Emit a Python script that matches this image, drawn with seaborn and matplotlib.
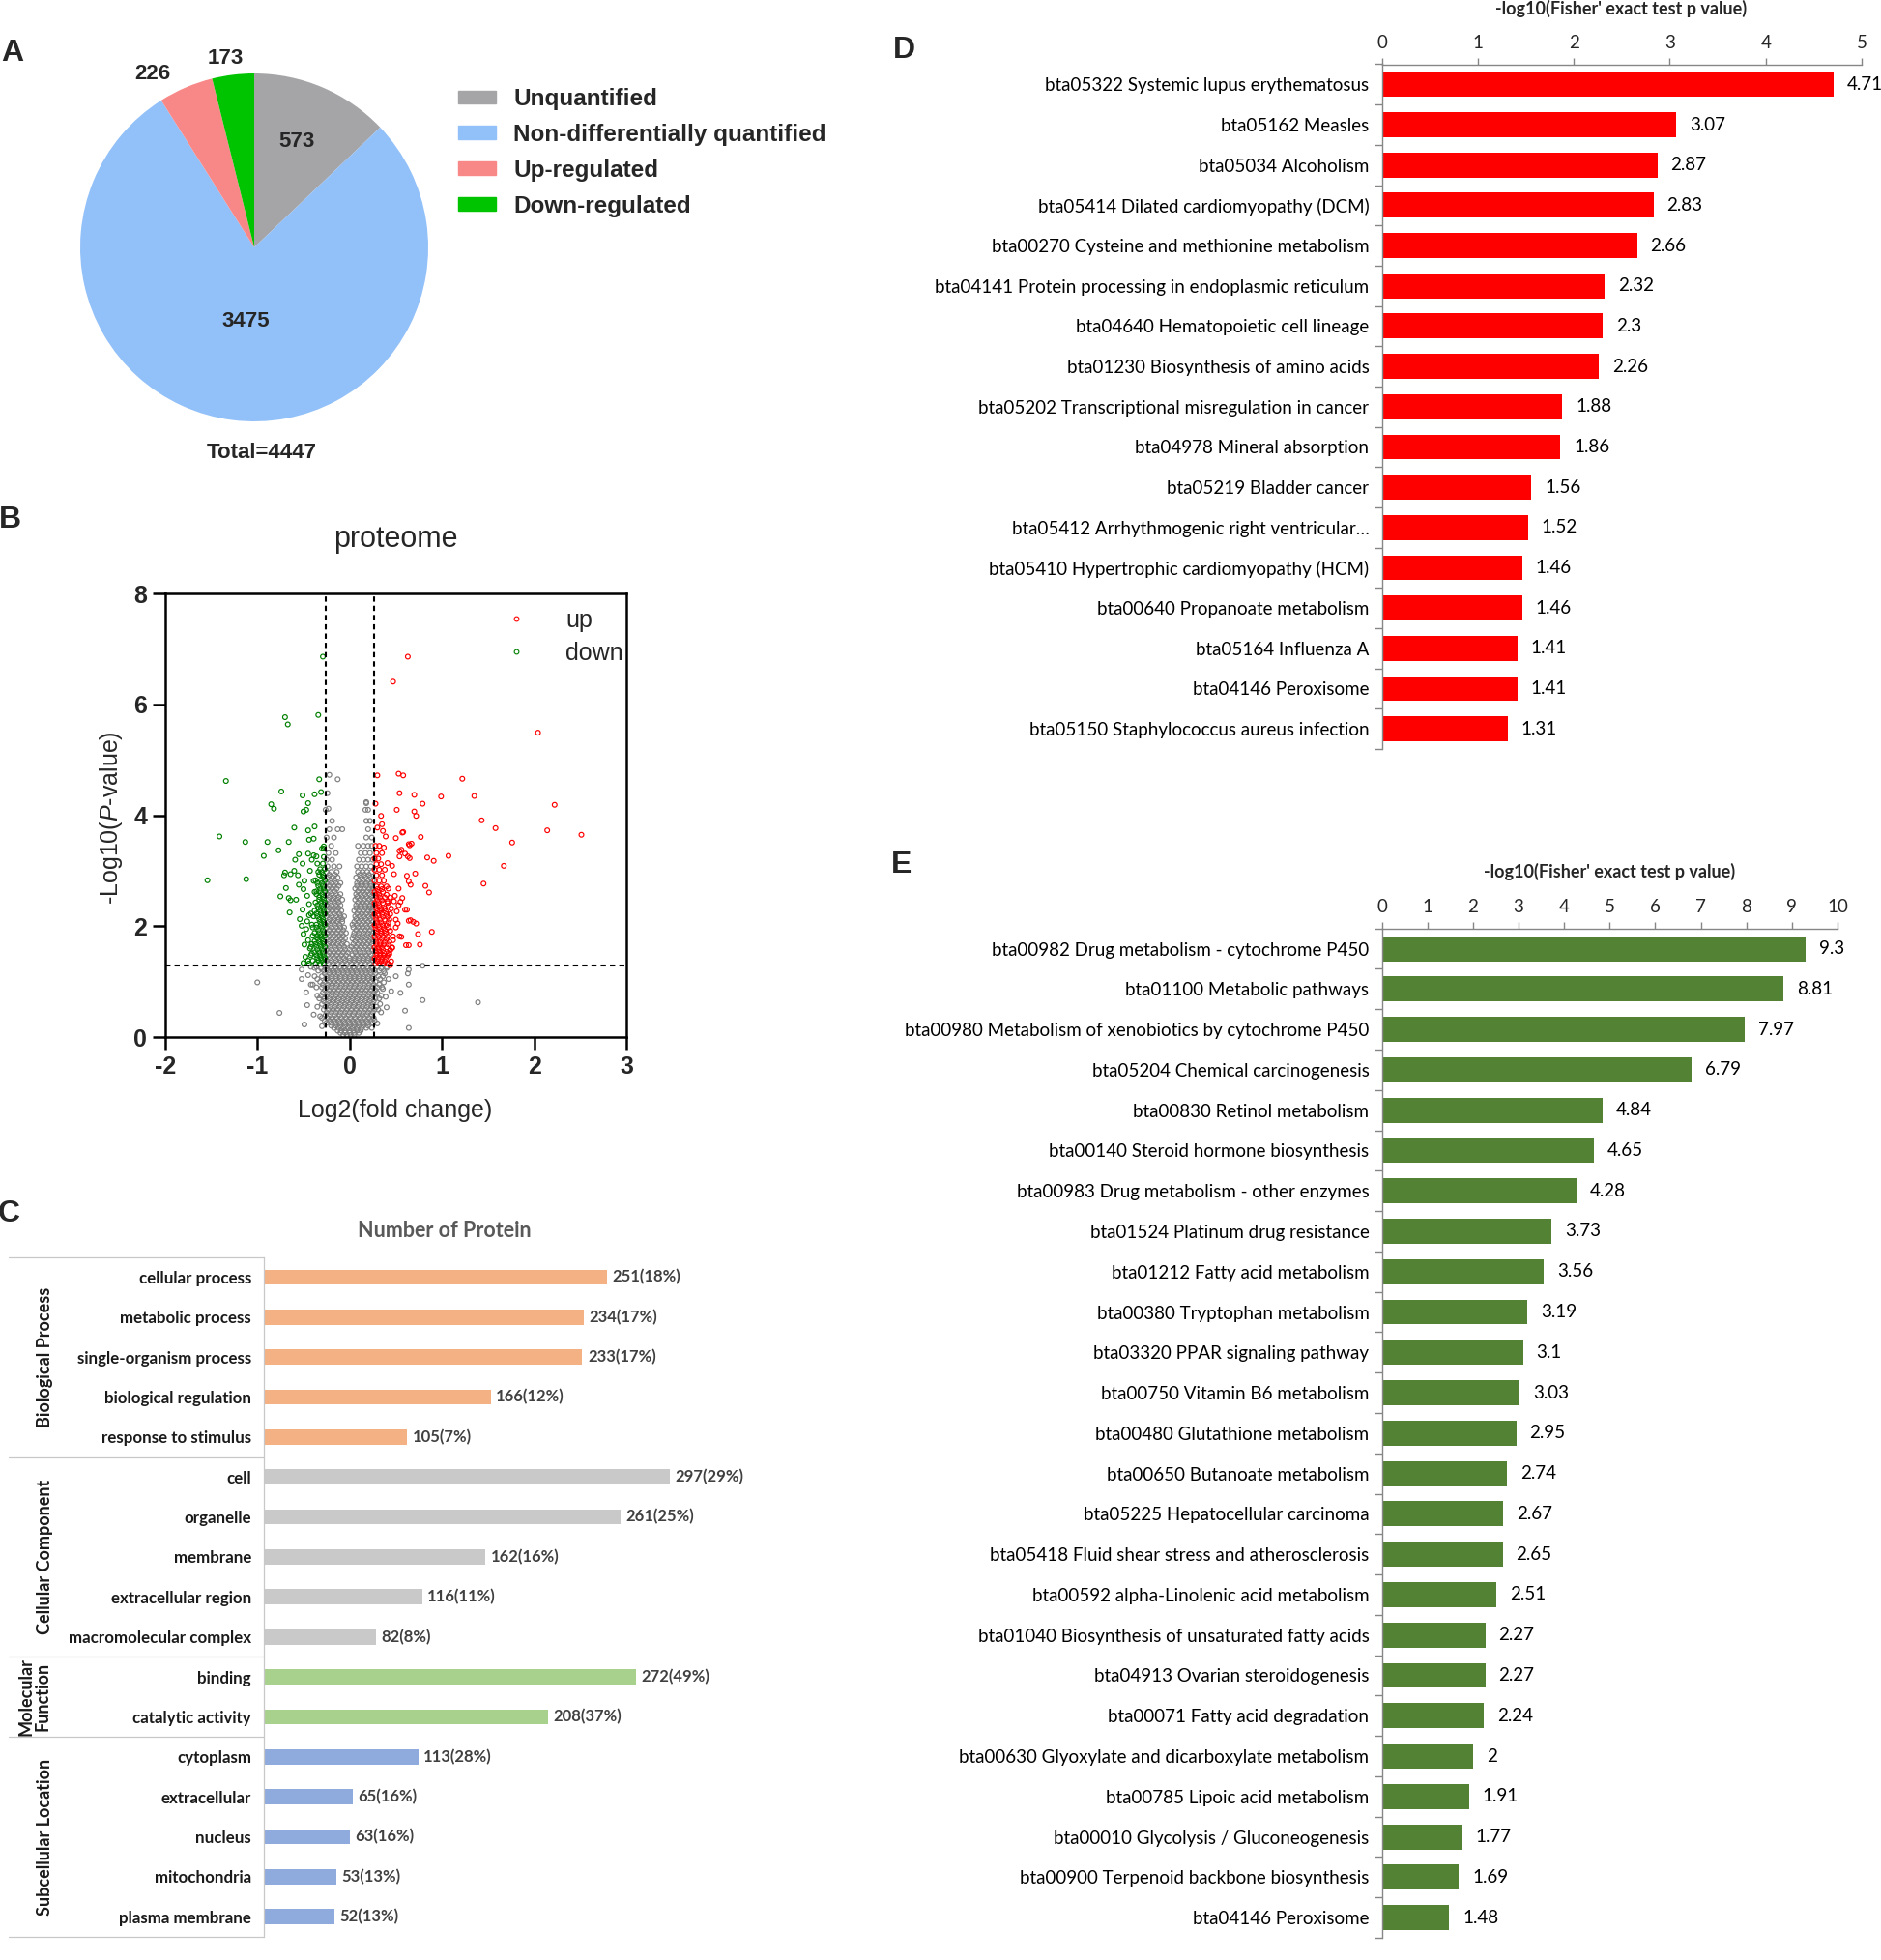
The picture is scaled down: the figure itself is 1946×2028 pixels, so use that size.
import matplotlib
matplotlib.use("Agg")
import matplotlib.pyplot as plt
import seaborn as sns
import pandas as pd
from matplotlib.lines import Line2D
from matplotlib.patches import Patch
from matplotlib.transforms import blended_transform_factory

# ---------------- data ----------------
# A: protein quantification pie
pie_labels = ["Unquantified", "Non-differentially quantified", "Up-regulated", "Down-regulated"]
pie_counts = [573, 3475, 226, 173]
pie_colors = ["#a5a5a8", "#92c0f8", "#f88888", "#00c400"]

# B: volcano plot (log2 fold change, -log10 p)
up_points = [
    (0.63, 6.86), (0.47, 6.41), (2.04, 5.49), (0.30, 4.72), (0.53, 4.75), (0.58, 4.72),
    (1.22, 4.66), (1.35, 4.35), (0.99, 4.34), (0.70, 4.37), (0.54, 4.40), (0.28, 4.21),
    (0.79, 4.21), (2.22, 4.19), (0.51, 4.10), (0.70, 4.07), (0.72, 3.99), (0.34, 3.99),
    (1.43, 3.91), (1.58, 3.77), (2.14, 3.73), (2.51, 3.65), (0.35, 3.84), (0.30, 3.78),
    (0.57, 3.69), (0.77, 3.61), (0.50, 3.59), (1.76, 3.51), (0.64, 3.48), (0.67, 3.49),
    (0.54, 3.36), (0.54, 3.26), (1.07, 3.27), (0.84, 3.24), (0.91, 3.18), (0.63, 3.26),
    (1.67, 3.09), (0.71, 2.95), (1.45, 2.77), (0.82, 2.73), (0.86, 2.61), (0.57, 2.51),
    (0.60, 2.30), (0.64, 2.10), (0.69, 2.08), (0.72, 2.05), (0.89, 1.90), (0.74, 1.86),
    (0.54, 1.82), (0.76, 1.67), (0.61, 1.66), (0.43, 1.50), (0.42, 1.32), (0.36, 3.72),
    (0.39, 3.62), (0.58, 3.70), (0.65, 3.46), (0.37, 3.42), (0.56, 3.38), (0.60, 3.31),
    (0.65, 3.23), (0.41, 3.14), (0.46, 3.09), (0.48, 2.94), (0.62, 2.91), (0.64, 2.81),
    (0.66, 2.75), (0.42, 2.68), (0.53, 2.68), (0.41, 2.45), (0.48, 2.45), (0.55, 2.44),
    (0.62, 2.30), (0.44, 2.22), (0.51, 2.27), (0.66, 2.11), (0.56, 1.81), (0.64, 1.66),
    (0.46, 1.61), (0.42, 1.98), (0.50, 1.98), (0.44, 1.30), (0.49, 2.55), (0.52, 2.05),
    (0.47, 1.75), (0.53, 2.38),
]
up_rows = [
    (1.33, [0.28, 0.32, 0.36, 0.41]), (1.37, [0.30, 0.34, 0.38, 0.45]),
    (1.42, [0.27, 0.31, 0.35, 0.39]), (1.47, [0.29, 0.33, 0.37, 0.41]),
    (1.52, [0.29, 0.33, 0.37, 0.42]), (1.57, [0.28, 0.32, 0.36, 0.44]),
    (1.62, [0.27, 0.31, 0.35, 0.40, 0.46]), (1.67, [0.29, 0.33, 0.37, 0.42]),
    (1.72, [0.29, 0.33, 0.38, 0.43]), (1.77, [0.28, 0.35, 0.40]),
    (1.82, [0.27, 0.31, 0.36, 0.41, 0.47]), (1.87, [0.30, 0.34, 0.39]),
    (1.92, [0.29, 0.34, 0.38, 0.44]), (1.97, [0.28, 0.32, 0.37]),
    (2.02, [0.27, 0.31, 0.36, 0.40]), (2.07, [0.30, 0.34, 0.42]),
    (2.12, [0.29, 0.33, 0.38, 0.43, 0.50]), (2.17, [0.28, 0.36, 0.41]),
    (2.22, [0.27, 0.31, 0.35, 0.40]), (2.27, [0.30, 0.33, 0.39]),
    (2.32, [0.29, 0.34, 0.38, 0.45]), (2.37, [0.28, 0.32, 0.42]),
    (2.42, [0.27, 0.31, 0.36, 0.41]), (2.47, [0.30, 0.35]),
    (2.52, [0.29, 0.33, 0.38, 0.44]), (2.57, [0.28, 0.32, 0.40]),
    (2.62, [0.27, 0.31, 0.36]), (2.67, [0.30, 0.35]),
    (2.72, [0.29, 0.34, 0.40]), (2.82, [0.27, 0.32, 0.37]), (2.92, [0.29, 0.35]),
    (3.02, [0.27, 0.32, 0.38]), (3.12, [0.29, 0.34]), (3.22, [0.27, 0.31]),
    (3.32, [0.29, 0.35]), (3.45, [0.28, 0.32]),
]
down_points = [
    (-0.29, 6.86), (-0.34, 5.81), (-0.70, 5.77), (-0.67, 5.64), (-1.34, 4.62), (-0.33, 4.65),
    (-0.74, 4.43), (-0.51, 4.36), (-0.38, 4.38), (-0.31, 4.42), (-0.85, 4.20), (-0.82, 4.12),
    (-0.45, 4.22), (-0.50, 4.07), (-0.47, 4.10), (-0.60, 3.78), (-0.38, 3.80), (-0.45, 3.73),
    (-1.41, 3.62), (-1.13, 3.52), (-0.89, 3.52), (-0.66, 3.52), (-0.77, 3.37), (-0.93, 3.27),
    (-0.44, 3.56), (-0.39, 3.58), (-0.28, 3.44), (-0.55, 3.30), (-0.45, 3.31), (-0.39, 3.28),
    (-0.59, 3.20), (-0.51, 3.13), (-0.41, 3.20), (-1.54, 2.83), (-1.12, 2.85), (-0.70, 2.97),
    (-0.71, 2.92), (-0.64, 2.94), (-0.56, 2.92), (-0.49, 2.82), (-0.39, 2.82), (-0.69, 2.69),
    (-0.75, 2.54), (-0.66, 2.51), (-0.64, 2.47), (-0.50, 2.67), (-0.38, 2.62), (-0.65, 2.25),
    (-0.51, 2.30), (-0.54, 2.13), (-0.46, 2.09), (-0.52, 2.01), (-0.50, 1.86), (-0.49, 1.67),
    (-0.41, 1.51), (-0.50, 1.34), (-0.45, 1.38), (-0.36, 3.26), (-0.43, 3.00), (-0.46, 2.55),
    (-0.44, 2.40), (-0.47, 1.95), (-0.45, 1.75), (-0.43, 1.60), (-0.48, 1.45), (-0.44, 2.20),
    (-0.58, 2.48), (-0.55, 2.75), (-0.60, 3.00),
]
down_rows = [
    (1.33, [-0.28, -0.32, -0.37, -0.44]), (1.38, [-0.30, -0.34, -0.40]),
    (1.43, [-0.27, -0.31, -0.35]), (1.48, [-0.28, -0.32, -0.36, -0.42]),
    (1.53, [-0.29, -0.33, -0.38]), (1.58, [-0.30, -0.35]),
    (1.63, [-0.27, -0.31, -0.36, -0.42]), (1.68, [-0.28, -0.32, -0.37, -0.41]),
    (1.73, [-0.29, -0.33, -0.38]), (1.78, [-0.30, -0.35]),
    (1.83, [-0.27, -0.31, -0.35, -0.40]), (1.88, [-0.28, -0.33, -0.38]),
    (1.93, [-0.29, -0.34]), (1.98, [-0.30, -0.36, -0.40]),
    (2.03, [-0.27, -0.31, -0.36, -0.41]), (2.08, [-0.28, -0.32]),
    (2.13, [-0.29, -0.33]), (2.18, [-0.30, -0.35, -0.39]),
    (2.23, [-0.27, -0.31, -0.36, -0.42]), (2.28, [-0.28, -0.32, -0.38]),
    (2.33, [-0.29, -0.34]), (2.38, [-0.30, -0.35]),
    (2.43, [-0.27, -0.31, -0.37]), (2.48, [-0.28, -0.33]),
    (2.53, [-0.29, -0.33]), (2.58, [-0.30, -0.36]),
    (2.63, [-0.27, -0.32, -0.36]), (2.68, [-0.28, -0.32]),
    (2.73, [-0.29, -0.34]), (2.78, [-0.30, -0.35]),
    (2.83, [-0.27, -0.31, -0.37]), (2.88, [-0.28]), (2.93, [-0.29, -0.33]), (2.98, [-0.30, -0.34]),
    (3.03, [-0.27, -0.32]), (3.13, [-0.29, -0.35]), (3.25, [-0.28]), (3.40, [-0.28, -0.30]),
]
other_points = [
    (-1.00, 0.99), (-0.76, 0.44), (-0.49, 0.23), (1.39, 0.63), (0.64, 0.95), (0.60, 0.48),
    (0.64, 0.17), (0.79, 0.67), (0.79, 1.29), (0.64, 1.22), (0.63, 1.15), (0.40, 0.54),
    (0.45, 0.83), (-0.46, 0.58), (-0.39, 0.41), (-0.52, 1.22), (-0.52, 1.05), (-0.47, 0.81),
    (-0.32, 0.38), (0.37, 1.19), (0.37, 0.99), (0.36, 0.87), (0.39, 0.73), (-0.45, 1.12),
    (-0.40, 0.95), (-0.35, 0.75), (0.42, 1.05), (0.33, 0.60), (-0.30, 0.20), (0.30, 0.25),
    (-0.22, 4.73), (-0.13, 4.65), (-0.23, 4.12), (0.18, 4.24), (-0.24, 4.40), (0.40, 1.25),
    (-0.38, 1.25), (0.50, 1.10), (0.55, 0.80),
]
other_rows = [
    (0.04, [-0.07, -0.03, 0.01, 0.05]),
    (0.08, [-0.1, -0.05, 0.0, 0.05, 0.1]),
    (0.12, [-0.13, -0.09, -0.05, 0.0, 0.04, 0.08, 0.12]),
    (0.17, [-0.17, -0.12, -0.07, -0.02, 0.03, 0.08, 0.13, 0.18, 0.24]),
    (0.21, [-0.2, -0.15, -0.1, -0.05, 0.0, 0.05, 0.1, 0.15, 0.2]),
    (0.26, [-0.25, -0.2, -0.15, -0.1, -0.05, 0.0, 0.05, 0.1, 0.15, 0.2, 0.25]),
    (0.30, [-0.27, -0.22, -0.17, -0.12, -0.07, -0.02, 0.03, 0.08, 0.13, 0.18, 0.23, 0.27]),
    (0.35, [-0.3, -0.24, -0.19, -0.14, -0.09, -0.04, 0.01, 0.06, 0.11, 0.16, 0.21, 0.26]),
    (0.40, [-0.26, -0.21, -0.16, -0.11, -0.06, -0.01, 0.04, 0.09, 0.14, 0.19, 0.24]),
    (0.45, [-0.25, -0.2, -0.15, -0.1, -0.05, 0.0, 0.05, 0.1, 0.15, 0.2, 0.25, 0.34]),
    (0.50, [-0.28, -0.23, -0.18, -0.13, -0.08, -0.03, 0.02, 0.07, 0.12, 0.17, 0.22, 0.27, 0.31]),
    (0.55, [-0.35, -0.26, -0.21, -0.16, -0.11, -0.06, -0.01, 0.04, 0.09, 0.14, 0.19, 0.24, 0.29]),
    (0.60, [-0.3, -0.25, -0.2, -0.15, -0.1, -0.05, 0.0, 0.05, 0.1, 0.15, 0.2, 0.25]),
    (0.65, [-0.28, -0.23, -0.18, -0.13, -0.08, -0.03, 0.02, 0.07, 0.12, 0.17, 0.22, 0.26]),
    (0.70, [-0.33, -0.27, -0.22, -0.17, -0.12, -0.07, -0.02, 0.03, 0.08, 0.13, 0.18, 0.23, 0.28, 0.32]),
    (0.75, [-0.31, -0.25, -0.2, -0.15, -0.1, -0.05, 0.0, 0.05, 0.1, 0.15, 0.2, 0.25, 0.34]),
    (0.80, [-0.29, -0.24, -0.19, -0.14, -0.09, -0.04, 0.01, 0.06, 0.11, 0.16, 0.21, 0.26, 0.3]),
    (0.85, [-0.27, -0.22, -0.17, -0.12, -0.07, -0.02, 0.03, 0.08, 0.13, 0.18, 0.23, 0.28]),
    (0.90, [-0.36, -0.3, -0.25, -0.2, -0.15, -0.1, -0.05, 0.0, 0.05, 0.1, 0.15, 0.2, 0.25, 0.3, 0.35]),
    (0.95, [-0.42, -0.29, -0.24, -0.19, -0.14, -0.09, -0.04, 0.01, 0.06, 0.11, 0.16, 0.21, 0.26, 0.32]),
    (1.00, [-0.32, -0.27, -0.22, -0.17, -0.12, -0.07, -0.02, 0.03, 0.08, 0.13, 0.18, 0.23, 0.28]),
    (1.05, [-0.35, -0.25, -0.2, -0.15, -0.1, -0.05, 0.0, 0.05, 0.1, 0.15, 0.2, 0.25, 0.33]),
    (1.10, [-0.38, -0.3, -0.25, -0.2, -0.15, -0.1, -0.05, 0.0, 0.05, 0.1, 0.15, 0.2, 0.25, 0.31, 0.36]),
    (1.15, [-0.27, -0.22, -0.17, -0.12, -0.07, -0.02, 0.03, 0.08, 0.13, 0.18, 0.23, 0.28, 0.38]),
    (1.20, [-0.34, -0.28, -0.23, -0.18, -0.13, -0.08, -0.03, 0.02, 0.07, 0.12, 0.17, 0.22, 0.27, 0.32]),
    (1.24, [-0.31, -0.25, -0.2, -0.15, -0.1, -0.05, 0.0, 0.05, 0.1, 0.15, 0.2, 0.25, 0.34]),
    (1.27, [-0.42, -0.36, -0.26, -0.21, -0.16, -0.11, -0.06, -0.01, 0.04, 0.09, 0.14, 0.19, 0.24, 0.3, 0.4]),
    (1.33, [-0.23, -0.18, -0.13, -0.08, -0.03, 0.02, 0.07, 0.12, 0.17, 0.22]),
    (1.38, [-0.25, -0.2, -0.15, -0.1, -0.05, 0.0, 0.05, 0.1, 0.15, 0.2, 0.25]),
    (1.43, [-0.26, -0.21, -0.16, -0.11, -0.06, 0.0, 0.05, 0.1, 0.15, 0.2, 0.25]),
    (1.48, [-0.24, -0.19, -0.14, -0.09, -0.04, 0.03, 0.08, 0.13, 0.18, 0.23]),
    (1.53, [-0.22, -0.17, -0.12, -0.07, -0.02, 0.06, 0.11, 0.16, 0.21]),
    (1.58, [-0.25, -0.2, -0.15, -0.1, -0.05, 0.0, 0.05, 0.1, 0.15, 0.2, 0.25]),
    (1.63, [-0.26, -0.21, -0.16, -0.11, -0.06, 0.02, 0.07, 0.12, 0.17, 0.22]),
    (1.68, [-0.23, -0.18, -0.13, -0.08, -0.03, 0.04, 0.09, 0.14, 0.19, 0.24]),
    (1.73, [-0.22, -0.17, -0.12, -0.07, 0.06, 0.11, 0.16, 0.21, 0.25]),
    (1.78, [-0.25, -0.2, -0.15, -0.1, -0.05, 0.03, 0.08, 0.13, 0.18, 0.23]),
    (1.83, [-0.26, -0.21, -0.16, -0.11, -0.07, 0.04, 0.09, 0.14, 0.19, 0.24]),
    (1.88, [-0.24, -0.19, -0.14, -0.09, -0.04, 0.05, 0.1, 0.15, 0.2, 0.25]),
    (1.93, [-0.22, -0.17, -0.12, -0.07, 0.07, 0.12, 0.17, 0.22]),
    (1.98, [-0.25, -0.2, -0.15, -0.1, -0.06, 0.04, 0.09, 0.14, 0.19, 0.24]),
    (2.03, [-0.26, -0.21, -0.16, -0.11, 0.03, 0.08, 0.13, 0.18, 0.23]),
    (2.08, [-0.23, -0.18, -0.13, -0.08, 0.05, 0.1, 0.15, 0.2, 0.25]),
    (2.13, [-0.22, -0.17, -0.12, -0.08, 0.07, 0.12, 0.17, 0.22]),
    (2.18, [-0.25, -0.2, -0.15, -0.1, -0.06, 0.06, 0.11, 0.16, 0.21, 0.25]),
    (2.23, [-0.26, -0.21, -0.16, -0.11, 0.08, 0.13, 0.18, 0.23]),
    (2.28, [-0.24, -0.19, -0.14, -0.09, 0.05, 0.1, 0.15, 0.2, 0.24]),
    (2.33, [-0.22, -0.17, -0.12, 0.07, 0.12, 0.17, 0.22, 0.25]),
    (2.38, [-0.25, -0.2, -0.15, -0.1, 0.07, 0.12, 0.17, 0.22]),
    (2.43, [-0.26, -0.21, -0.16, -0.12, 0.09, 0.14, 0.19, 0.24]),
    (2.48, [-0.23, -0.18, -0.13, -0.08, 0.06, 0.11, 0.16, 0.21, 0.25]),
    (2.53, [-0.22, -0.17, -0.12, 0.08, 0.13, 0.18, 0.23]),
    (2.58, [-0.25, -0.2, -0.15, -0.1, 0.07, 0.12, 0.17, 0.22]),
    (2.63, [-0.26, -0.21, -0.16, 0.09, 0.14, 0.19, 0.24]),
    (2.68, [-0.24, -0.19, -0.14, 0.06, 0.11, 0.16, 0.21, 0.25]),
    (2.73, [-0.22, -0.17, -0.12, 0.08, 0.13, 0.18, 0.23]),
    (2.78, [-0.25, -0.2, -0.15, -0.1, 0.08, 0.13, 0.18, 0.23]),
    (2.83, [-0.26, -0.21, -0.16, 0.1, 0.15, 0.2, 0.25]),
    (2.88, [-0.23, -0.18, -0.13, 0.07, 0.12, 0.17, 0.22]),
    (2.93, [-0.22, -0.16, 0.11, 0.16, 0.21]),
    (2.98, [-0.25, -0.2, -0.14, 0.09, 0.14, 0.19, 0.24]),
    (3.08, [-0.24, -0.17, -0.11, 0.08, 0.13, 0.18, 0.23]),
    (3.20, [-0.25, -0.19, 0.1, 0.15, 0.2, 0.25]),
    (3.32, [-0.23, -0.15, 0.12, 0.17, 0.22]),
    (3.45, [-0.2, 0.09, 0.15, 0.2, 0.24]),
    (3.60, [-0.25, -0.17, 0.18, 0.24]),
    (3.75, [-0.22, -0.13, -0.08, 0.2]),
    (3.90, [-0.19, 0.18, 0.22]),
    (4.10, [-0.26, 0.17, 0.2]),
    (4.22, [0.18]),
]
fc_cut = 0.263
p_cut = 1.301

# C: GO / subcellular classification
go_terms = ["cellular process", "metabolic process", "single-organism process",
            "biological regulation", "response to stimulus",
            "cell", "organelle", "membrane", "extracellular region", "macromolecular complex",
            "binding", "catalytic activity",
            "cytoplasm", "extracellular", "nucleus", "mitochondria", "plasma membrane"]
go_counts = [251, 234, 233, 166, 105, 297, 261, 162, 116, 82, 272, 208, 113, 65, 63, 53, 52]
go_pcts = [18, 17, 17, 12, 7, 29, 25, 16, 11, 8, 49, 37, 28, 16, 16, 13, 13]
go_groups = ["Biological Process"] * 5 + ["Cellular Component"] * 5 + \
            ["Molecular\nFunction"] * 2 + ["Subcellular Location"] * 5
group_colors = {"Biological Process": "#f4b183", "Cellular Component": "#c9c9c9",
                "Molecular\nFunction": "#a9d18e", "Subcellular Location": "#8faadc"}

# D: KEGG enrichment (up)
d_terms = ["bta05322 Systemic lupus erythematosus", "bta05162 Measles", "bta05034 Alcoholism",
           "bta05414 Dilated cardiomyopathy (DCM)", "bta00270 Cysteine and methionine metabolism",
           "bta04141 Protein processing in endoplasmic reticulum", "bta04640 Hematopoietic cell lineage",
           "bta01230 Biosynthesis of amino acids", "bta05202 Transcriptional misregulation in cancer",
           "bta04978 Mineral absorption", "bta05219 Bladder cancer",
           "bta05412 Arrhythmogenic right ventricular\u2026", "bta05410 Hypertrophic cardiomyopathy (HCM)",
           "bta00640 Propanoate metabolism", "bta05164 Influenza A", "bta04146 Peroxisome",
           "bta05150 Staphylococcus aureus infection"]
d_vals = [4.71, 3.07, 2.87, 2.83, 2.66, 2.32, 2.3, 2.26, 1.88, 1.86, 1.56, 1.52, 1.46, 1.46, 1.41, 1.41, 1.31]

# E: KEGG enrichment (down)
e_terms = ["bta00982 Drug metabolism - cytochrome P450", "bta01100 Metabolic pathways",
           "bta00980 Metabolism of xenobiotics by cytochrome P450", "bta05204 Chemical carcinogenesis",
           "bta00830 Retinol metabolism", "bta00140 Steroid hormone biosynthesis",
           "bta00983 Drug metabolism - other enzymes", "bta01524 Platinum drug resistance",
           "bta01212 Fatty acid metabolism", "bta00380 Tryptophan metabolism",
           "bta03320 PPAR signaling pathway", "bta00750 Vitamin B6 metabolism",
           "bta00480 Glutathione metabolism", "bta00650 Butanoate metabolism",
           "bta05225 Hepatocellular carcinoma", "bta05418 Fluid shear stress and atherosclerosis",
           "bta00592 alpha-Linolenic acid metabolism", "bta01040 Biosynthesis of unsaturated fatty acids",
           "bta04913 Ovarian steroidogenesis", "bta00071 Fatty acid degradation",
           "bta00630 Glyoxylate and dicarboxylate metabolism", "bta00785 Lipoic acid metabolism",
           "bta00010 Glycolysis / Gluconeogenesis", "bta00900 Terpenoid backbone biosynthesis",
           "bta04146 Peroxisome"]
e_vals = [9.3, 8.81, 7.97, 6.79, 4.84, 4.65, 4.28, 3.73, 3.56, 3.19, 3.1, 3.03, 2.95, 2.74,
          2.67, 2.65, 2.51, 2.27, 2.27, 2.24, 2.0, 1.91, 1.77, 1.69, 1.48]

# ---------------- style ----------------
sns.set_theme(style="ticks")
plt.rcParams["font.family"] = ["Liberation Sans", "DejaVu Sans"]
plt.rcParams["axes.unicode_minus"] = False
plt.rcParams["mathtext.fontset"] = "custom"
plt.rcParams["mathtext.rm"] = "Liberation Sans"
plt.rcParams["mathtext.it"] = "Liberation Sans:italic"
XL = ["Lato", "DejaVu Sans"]   # excel-like panels

W, H = 1946, 2028
fig = plt.figure(figsize=(W / 100, H / 100), dpi=100)


def add_ax(x0, y0, x1, y1):
    # pixel box (top-left origin) -> figure axes
    return fig.add_axes([x0 / W, 1 - y1 / H, (x1 - x0) / W, (y1 - y0) / H])


def ftext(x, y, s, **kw):
    return fig.text(x / W, 1 - y / H, s, **kw)


def expand(points, rows):
    pts = list(points)
    for y, xs in rows:
        pts += [(x, y) for x in xs]
    return pd.DataFrame(pts, columns=["log2fc", "logp"])


# panel letters
for letter, (lx, ly) in {"A": (13, 55), "B": (10, 538), "C": (9, 1256),
                         "D": (935, 52), "E": (933, 895)}.items():
    ftext(lx, ly, letter, fontsize=23, fontweight="bold", ha="center", va="center")

# ---------------- A: pie ----------------
cx, cy, r = 263, 256, 180
ax_a = add_ax(cx - r, cy - r, cx + r, cy + r)
ax_a.pie(pie_counts, colors=pie_colors, startangle=90, counterclock=False,
         wedgeprops=dict(linewidth=0))
ax_a.set_xlim(-1, 1)
ax_a.set_ylim(-1, 1)
ax_a.set_aspect("equal")
for (tx, ty), val in zip([(307, 146), (254, 333), (158, 76), (233, 61)], pie_counts):
    ftext(tx, ty, str(val), fontsize=16, fontweight="bold", ha="center", va="center")
ftext(271, 468, f"Total={sum(pie_counts)}", fontsize=16, fontweight="bold", ha="center", va="center")
handles = [Patch(color=c) for c in pie_colors]
fig.legend(handles, pie_labels, loc="upper left", bbox_to_anchor=(462 / W, 1 - 79 / H),
           frameon=False, prop=dict(weight="bold", size=17.5), borderpad=0,
           handlelength=1.6, handleheight=0.5, handletextpad=0.75, labelspacing=0.57)

# ---------------- B: volcano ----------------
ax_b = add_ax(170.7, 614, 648.3, 1073.3)
other_df = expand(other_points, other_rows)
up_df = expand(up_points, up_rows)
down_df = expand(down_points, down_rows)
for df, col in [(other_df, "#7f7f7f"), (up_df, "#ff0000"), (down_df, "#008000")]:
    sns.scatterplot(data=df, x="log2fc", y="logp", ax=ax_b, marker="o", s=12, color=col,
                    facecolor="none", edgecolor=col, linewidth=0.85, legend=False)
for xv in (-fc_cut, fc_cut):
    ax_b.axvline(xv, color="black", lw=1.5, ls=(0, (2.6, 2)))
ax_b.axhline(p_cut, color="black", lw=1.5, ls=(0, (2.6, 2)))
ax_b.set_xlim(-2, 3)
ax_b.set_ylim(0, 8)
ax_b.set_xticks(range(-2, 4))
ax_b.set_yticks(range(0, 9, 2))
ax_b.set_xlabel("")
ax_b.set_ylabel("")
for sp in ax_b.spines.values():
    sp.set_linewidth(1.8)
    sp.set_color("black")
ax_b.tick_params(length=9.4, width=1.8, labelsize=18, pad=4, color="black")
for lbl in ax_b.get_xticklabels() + ax_b.get_yticklabels():
    lbl.set_fontweight("bold")
ftext(409, 558, "proteome", fontsize=22, ha="center", va="center")
ftext(409, 1149, "Log2(fold change)", fontsize=18, ha="center", va="center")
ftext(115, 846, "-Log10($\\mathit{P}$-value)", fontsize=18, ha="center", va="center", rotation=90)
vh = [Line2D([], [], ls="", marker="o", ms=3.4, mfc="none", mec=c, mew=0.8)
      for c in ("#ff0000", "#008000")]
fig.legend(vh, ["up", "down"], loc="upper left", bbox_to_anchor=(509 / W, 1 - 617 / H),
           frameon=False, fontsize=18, borderpad=0, handlelength=1.0, handletextpad=1.55,
           labelspacing=0.42)

# ---------------- C: GO classification ----------------
ax_c = add_ax(272.6, 1300.7, 780, 2004)
sns.barplot(x=go_counts, y=go_terms, hue=go_terms, orient="h", width=0.38, saturation=1,
            palette={t: group_colors[g] for t, g in zip(go_terms, go_groups)},
            linewidth=0, legend=False, ax=ax_c)
ax_c.set_xlim(0, 358.5)
ax_c.set_ylim(16.5, -0.5)
for s in ("top", "right", "bottom"):
    ax_c.spines[s].set_visible(False)
ax_c.spines["left"].set_color("#c8c8c8")
ax_c.spines["left"].set_linewidth(0.9)
ax_c.set_xticks([])
ax_c.tick_params(axis="y", length=0, pad=9)
ax_c.set_yticks(range(len(go_terms)))
ax_c.set_yticklabels(go_terms, family=XL, fontsize=12.2, fontweight="bold", color="#1a1a1a")
for i, (v, p) in enumerate(zip(go_counts, go_pcts)):
    ax_c.annotate(f"{v}({p}%)", (v, i), xytext=(4, 0), textcoords="offset points",
                  va="center", ha="left", family=XL, fontsize=12, fontweight="bold", color="#404040")
trans = blended_transform_factory(ax_c.transAxes, ax_c.transData)
for yb in (-0.5, 4.5, 9.5, 11.5, 16.5):
    ax_c.plot([-0.52, 0], [yb, yb], transform=trans, color="#c8c8c8", lw=0.9, clip_on=False)
group_order = ["Biological Process", "Cellular Component", "Molecular\nFunction", "Subcellular Location"]
for g in group_order:
    idx = [i for i, gg in enumerate(go_groups) if gg == g]
    yc = (idx[0] + idx[-1]) / 2
    xa = -0.468 if "\n" in g else -0.445
    ax_c.text(xa, yc, g, transform=trans, rotation=90, ha="center", va="center",
              family=XL, fontsize=13, fontweight="bold", linespacing=1.0, color="#1a1a1a")
ftext(460, 1273, "Number of Protein", family=XL, fontsize=15.5, fontweight="bold",
      color="#595959", ha="center", va="center")


# ---------------- D / E: KEGG enrichment ----------------
def enrich_panel(box, terms, vals, color, xmax, title_xy):
    ax = add_ax(*box)
    sns.barplot(x=vals, y=terms, orient="h", color=color, width=0.62, saturation=1,
                linewidth=0, ax=ax)
    n = len(terms)
    ax.set_xlim(0, xmax)
    ax.set_ylim(n - 0.5, -0.5)
    ax.set_xlabel("")
    ax.set_ylabel("")
    ax.xaxis.tick_top()
    ax.set_xticks(range(xmax + 1))
    for s in ("right", "bottom"):
        ax.spines[s].set_visible(False)
    for s in ("top", "left"):
        ax.spines[s].set_color("#868686")
        ax.spines[s].set_linewidth(1.0)
    ax.tick_params(axis="x", top=True, bottom=False, length=5, width=1.0, color="#868686",
                   pad=5, labelsize=13.5)
    ax.set_xticklabels([str(t) for t in range(xmax + 1)], family=XL, fontsize=13.5)
    ax.set_yticks(range(n))
    ax.set_yticklabels(terms, family=XL, fontsize=13.5, color="black")
    ax.set_yticks([k - 0.5 for k in range(n + 1)], minor=True)
    ax.tick_params(axis="y", which="major", length=0, pad=9.5)
    ax.tick_params(axis="y", which="minor", length=5.5, width=1.0, color="#868686")
    for i, v in enumerate(vals):
        ax.annotate(f"{v:g}", (v, i), xytext=(10, 0), textcoords="offset points",
                    va="center", ha="left", family=XL, fontsize=13.5, color="black")
    ftext(title_xy[0], title_xy[1], "-log10(Fisher' exact test p value)", family=XL,
          fontsize=13, fontweight="bold", ha="center", va="center")
    return ax


enrich_panel((1429.6, 66.5, 1926, 775), d_terms, d_vals, "#ff0000", 5, (1677, 9))
enrich_panel((1429.6, 960.7, 1901, 2005), e_terms, e_vals, "#548235", 10, (1665, 902))

fig.savefig("out.png", dpi=100)
